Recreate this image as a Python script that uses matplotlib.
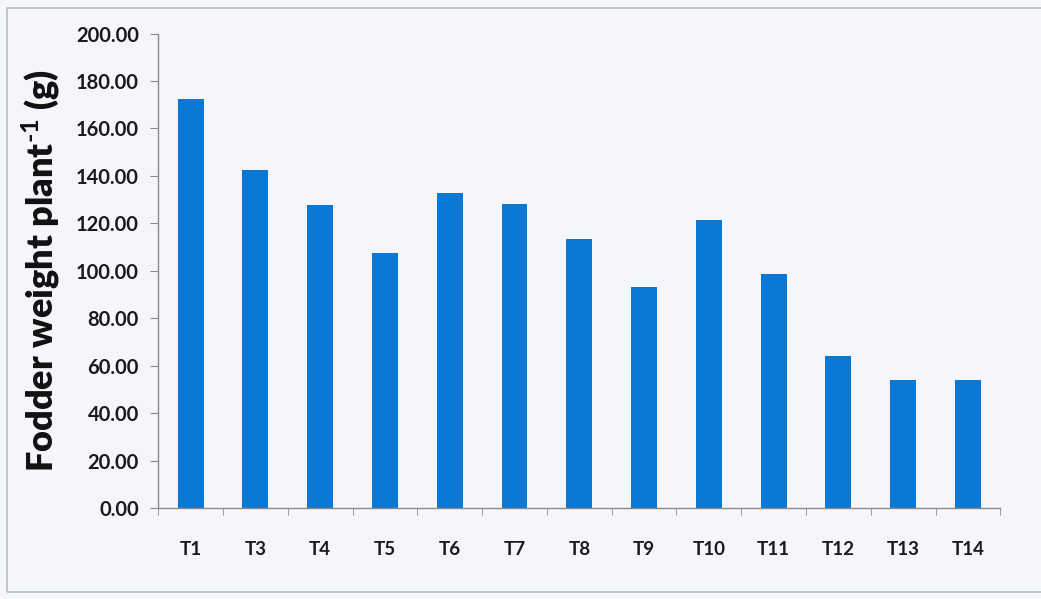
import matplotlib
matplotlib.use("Agg")
import matplotlib.pyplot as plt
from matplotlib.patches import Rectangle
from matplotlib.ticker import FixedLocator, FuncFormatter

treatments = ["T1", "T3", "T4", "T5", "T6", "T7", "T8", "T9", "T10", "T11", "T12", "T13", "T14"]
fodder_weight = [172.3, 142.3, 127.9, 107.3, 132.8, 128.0, 113.2, 93.1, 121.6, 98.5, 63.9, 54.0, 54.0]
y_ticks = [0, 20, 40, 60, 80, 100, 120, 140, 160, 180, 200]

bg = "#f4f6fb"
bar_color = "#0a78d4"
axis_color = "#8a8a8a"

plt.rcParams["font.family"] = ["Lato", "DejaVu Sans"]
plt.rcParams["mathtext.fontset"] = "custom"
plt.rcParams["mathtext.bf"] = "Lato:bold"
plt.rcParams["mathtext.rm"] = "Lato:bold"

fig = plt.figure(figsize=(10.41, 5.99), dpi=100, facecolor=bg)
ax = fig.add_axes([0.152, 0.152, 0.809, 0.792])
ax.set_facecolor(bg)

x = range(len(treatments))
ax.bar(x, fodder_weight, width=0.4, color=bar_color, zorder=2)

ax.set_xlim(-0.5, len(treatments) - 0.5)
ax.set_ylim(0, 200)
ax.yaxis.set_major_locator(FixedLocator(y_ticks))
ax.yaxis.set_major_formatter(FuncFormatter(lambda v, p: f"{v:.2f}"))

ax.set_xticks(list(x))
ax.set_xticklabels(treatments, fontsize=13.5, fontweight="bold", color="#1a1a1a")
ax.tick_params(axis="x", which="major", length=0, pad=24)
# category boundary ticks like a spreadsheet chart
ax.set_xticks([i - 0.5 for i in range(len(treatments) + 1)], minor=True)
ax.tick_params(axis="x", which="minor", length=5, color=axis_color)
ax.tick_params(axis="y", length=6, color=axis_color, labelsize=14.5,
               labelcolor="#1a1a1a", pad=8)
for lbl in ax.get_yticklabels():
    lbl.set_fontweight("bold")

for side in ("top", "right"):
    ax.spines[side].set_visible(False)
for side in ("left", "bottom"):
    ax.spines[side].set_color(axis_color)
    ax.spines[side].set_linewidth(1.0)

ax.set_ylabel("Fodder weight plant$^{\\text{-1}}$ (g)", fontsize=26,
              fontweight="heavy", color="#111111", labelpad=10)

# outer chart border
fig.patches.append(Rectangle((0.007, 0.012), 1.2, 0.975, transform=fig.transFigure,
                             fill=False, edgecolor="#b9bcc2", linewidth=1.2))

fig.savefig("out.png", dpi=100, facecolor=bg)
